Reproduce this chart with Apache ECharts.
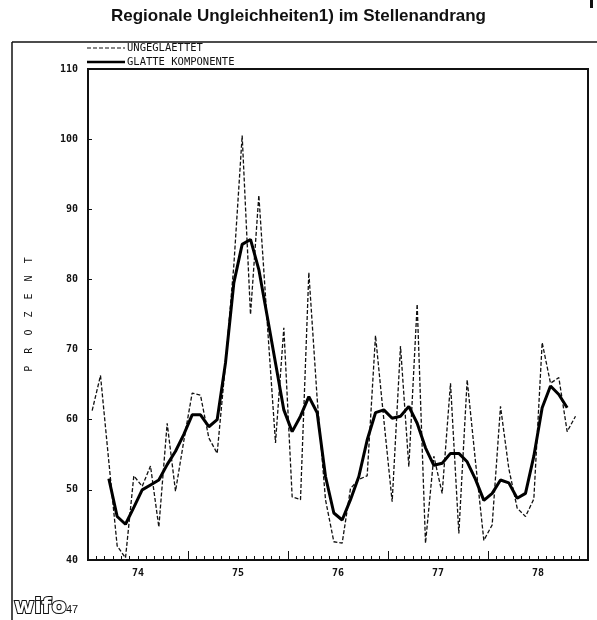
<!DOCTYPE html>
<html>
<head>
<meta charset="utf-8">
<script src="https://cdn.jsdelivr.net/npm/echarts@6/dist/echarts.min.js"></script>
<style>
  html, body { margin: 0; padding: 0; background: #fff; }
  #chart { width: 597px; height: 620px; }
</style>
</head>
<body>
<div id="chart"></div>
<script>
// monatswerte jan 1974 .. nov 1978 (index 0 = jan 74)
const rawValues = [
  61.3, 66.3, 54.0, 42.0, 40.3, 52.0, 50.5, 53.4, 44.7, 59.5, 49.8, 57.0,
  63.8, 63.5, 57.4, 55.2, 68.0, 82.0, 100.5, 75.0, 92.0, 74.0, 56.7, 73.1,
  49.0, 48.6, 81.0, 63.0, 48.6, 42.6, 42.4, 50.2, 51.5, 52.0, 72.0, 60.0,
  48.3, 70.5, 53.3, 76.5, 42.4, 54.8, 49.5, 65.2, 43.8, 65.7, 54.0, 42.8,
  45.0, 61.9, 53.0, 47.4, 46.2, 48.7, 71.0, 65.2, 66.0, 58.3, 60.5
]
// glatte komponente beginnt im maerz 74
const smoothStart = 2
const smoothValues = [
  51.6, 46.2, 45.1, 47.5, 50.0, 50.7, 51.4, 53.6, 55.5, 57.9,
  60.7, 60.7, 59.0, 60.0, 68.1, 79.5, 85.0, 85.7, 81.4, 74.8, 68.1, 61.4,
  58.3, 60.5, 63.3, 61.0, 51.9, 46.7, 45.7, 48.6, 51.9, 57.1, 61.0, 61.4,
  60.2, 60.5, 61.9, 59.5, 56.0, 53.5, 53.8, 55.2, 55.2, 54.0, 51.5, 48.5,
  49.5, 51.4, 51.0, 48.8, 49.5, 54.8, 61.7, 64.8, 63.6, 61.7
]
const yearLabels = ['74', '75', '76', '77', '78']
const monthsShown = 60

const plotFont = 'DejaVu Sans Mono'
const rawDash = [4, 2]

const rawData = rawValues.map((v, i) => [i + 0.5, v])
const smoothData = smoothValues.map((v, i) => [i + smoothStart + 0.5, v])

const chart = echarts.init(document.getElementById('chart'), null, { renderer: 'canvas' })

chart.setOption({
  animation: false,
  backgroundColor: '#fff',
  title: {
    text: 'Regionale Ungleichheiten1) im Stellenandrang',
    left: 'center',
    top: 3,
    textStyle: {
      fontFamily: 'Liberation Sans',
      fontSize: 17,
      fontWeight: 'bold',
      color: '#111'
    }
  },
  grid: {
    left: 88,
    right: 9,
    top: 69,
    bottom: 60,
    show: true,
    borderColor: '#111',
    borderWidth: 2
  },
  xAxis: [
    {
      type: 'value',
      min: 0,
      max: monthsShown,
      interval: 1,
      axisLine: { show: true, lineStyle: { color: '#111', width: 2 } },
      axisTick: { show: true, inside: true, length: 4, lineStyle: { color: '#111' } },
      splitLine: { show: false },
      axisLabel: {
        fontFamily: plotFont,
        fontSize: 10,
        fontWeight: 'bold',
        color: '#111',
        margin: 8,
        formatter: v => (v % 12 === 6 ? yearLabels[(v - 6) / 12] : '')
      }
    },
    {
      // jahresgrenzen, laengere striche
      type: 'value',
      position: 'bottom',
      min: 0,
      max: monthsShown,
      interval: 12,
      axisLine: { show: false },
      axisTick: { show: true, inside: true, length: 9, lineStyle: { color: '#111' } },
      axisLabel: { show: false },
      splitLine: { show: false }
    }
  ],
  yAxis: {
    type: 'value',
    min: 40,
    max: 110,
    interval: 10,
    axisLine: { show: true, lineStyle: { color: '#111', width: 2 } },
    axisTick: { show: true, inside: true, length: 4, lineStyle: { color: '#111' } },
    splitLine: { show: false },
    axisLabel: {
      fontFamily: plotFont,
      fontSize: 10,
      fontWeight: 'bold',
      color: '#111',
      margin: 10
    },
    name: 'P  R  O  Z  E  N  T',
    nameLocation: 'middle',
    nameRotate: 90,
    nameGap: 54,
    nameTextStyle: { fontFamily: plotFont, fontSize: 10, color: '#111' }
  },
  series: [
    {
      name: 'UNGEGLAETTET',
      type: 'line',
      data: rawData,
      symbol: 'none',
      clip: true,
      lineStyle: { color: '#111', width: 1.3, type: rawDash }
    },
    {
      name: 'GLATTE KOMPONENTE',
      type: 'line',
      data: smoothData,
      symbol: 'none',
      lineStyle: { color: '#000', width: 3 }
    }
  ],
  graphic: [
    // aeusserer rahmen
    { type: 'line', shape: { x1: 12, y1: 42, x2: 597, y2: 42 }, style: { stroke: '#111', lineWidth: 1.5 } },
    { type: 'line', shape: { x1: 12, y1: 42, x2: 12, y2: 620 }, style: { stroke: '#111', lineWidth: 1.5 } },
    { type: 'rect', shape: { x: 590, y: 0, width: 3, height: 8 }, style: { fill: '#111' } },
    // legende
    { type: 'line', shape: { x1: 87, y1: 48, x2: 125, y2: 48 }, style: { stroke: '#111', lineWidth: 1.2, lineDash: rawDash } },
    {
      type: 'text', x: 127, y: 48,
      style: { text: 'UNGEGLAETTET', font: '10.5px "DejaVu Sans Mono"', fill: '#111', verticalAlign: 'middle' }
    },
    { type: 'line', shape: { x1: 87, y1: 62, x2: 125, y2: 62 }, style: { stroke: '#000', lineWidth: 2.5 } },
    {
      type: 'text', x: 127, y: 62,
      style: { text: 'GLATTE KOMPONENTE', font: '10.5px "DejaVu Sans Mono"', fill: '#111', verticalAlign: 'middle' }
    },
    // logo unten links
    {
      type: 'text',
      x: 14,
      y: 596,
      style: {
        text: 'wifo',
        font: 'bold 22px "DejaVu Sans"',
        fill: '#fff',
        stroke: '#111',
        lineWidth: 2
      }
    },
    {
      type: 'text',
      x: 66,
      y: 604,
      style: { text: '47', font: '11px "Liberation Sans"', fill: '#111' }
    }
  ]
})
</script>
</body>
</html>
